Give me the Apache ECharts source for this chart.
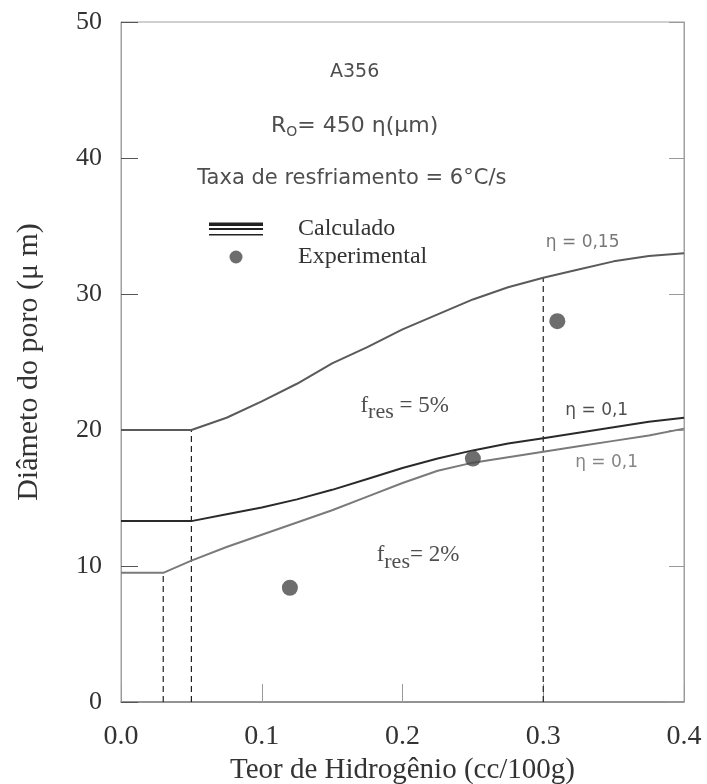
<!DOCTYPE html>
<html>
<head>
<meta charset="utf-8">
<script src="https://cdn.jsdelivr.net/npm/echarts@6/dist/echarts.min.js"></script>
<style>
  html, body { margin: 0; padding: 0; background: #fff; }
  #main { width: 707px; height: 784px; }
</style>
</head>
<body>
<div id="main"></div>
<script>
// hydrogen content (cc/100g) shared by the three calculated curves
var hydrogen = [0, 0.03, 0.05, 0.075, 0.1, 0.125, 0.15, 0.175, 0.2, 0.225, 0.25, 0.275, 0.3, 0.325, 0.35, 0.375, 0.4];
// calculated pore diameter (um)
var eta015res5 = [20, 20, 20, 20.9, 22.1, 23.4, 24.9, 26.1, 27.4, 28.5, 29.6, 30.5, 31.2, 31.8, 32.4, 32.8, 33.0];
var eta01res5 = [13.3, 13.3, 13.3, 13.8, 14.3, 14.9, 15.6, 16.4, 17.2, 17.9, 18.5, 19.0, 19.4, 19.8, 20.2, 20.6, 20.9];
var eta01res2 = [9.5, 9.5, 10.4, 11.4, 12.3, 13.2, 14.1, 15.1, 16.1, 17.0, 17.6, 18.0, 18.4, 18.8, 19.2, 19.6, 20.1];
// experimental points
var expX = [0.12, 0.25, 0.31];
var expY = [8.4, 17.9, 28.0];
// dashed guide lines (x position, height)
var guideX = [0.03, 0.05, 0.3];
var guideTop = [9.5, 20, 31.2];

var serif = "'Liberation Serif', 'Times New Roman', serif";
var sans = "'DejaVu Sans', 'Liberation Sans', sans-serif";

function pairs(xs, ys) {
  return xs.map(function (x, i) { return [x, ys[i]]; });
}

var dom = document.getElementById('main');
var myChart = echarts.init(dom, null, { renderer: 'canvas' });

// text notes, placed in data coordinates
var subSerif = { t: { fontFamily: serif, fontSize: 23, color: '#222' },
                 s: { fontFamily: serif, fontSize: 22, color: '#222', padding: [14, 0, 0, 0] } };
var notes = [
  { value: [0.166, 46.3], label: { formatter: 'A356', fontFamily: sans, fontSize: 19, color: '#222' } },
  { value: [0.166, 42.3], label: { formatter: '{t|R}{s|O}{t|= 450 η(μm)}', rich: {
      t: { fontFamily: sans, fontSize: 22, color: '#222' },
      s: { fontFamily: sans, fontSize: 14, color: '#222', padding: [12, 0, 0, 0] } } } },
  { value: [0.164, 38.5], label: { formatter: 'Taxa de resfriamento = 6°C/s', fontFamily: sans, fontSize: 21, color: '#222' } },
  { value: [0.328, 33.75], label: { formatter: 'η = 0,15', fontFamily: sans, fontSize: 17, color: '#555' } },
  { value: [0.338, 21.4], label: { formatter: 'η = 0,1', fontFamily: sans, fontSize: 17, color: '#222' } },
  { value: [0.345, 17.6], label: { formatter: 'η = 0,1', fontFamily: sans, fontSize: 17, color: '#666' } },
  { value: [0.2015, 21.8], label: { formatter: '{t|f}{s|res}{t| = 5%}', rich: subSerif } },
  { value: [0.211, 10.8], label: { formatter: '{t|f}{s|res}{t|= 2%}', rich: subSerif } }
];

var series = [
  {
    name: 'Calculado', type: 'line', data: pairs(hydrogen, eta01res5),
    symbol: 'none', color: '#222', lineStyle: { width: 2, color: '#2a2a2a' }, z: 3
  },
  {
    name: 'Calculado', type: 'line', data: pairs(hydrogen, eta015res5),
    symbol: 'none', lineStyle: { width: 2, color: '#5a5a5a' }, z: 3
  },
  {
    name: 'Calculado', type: 'line', data: pairs(hydrogen, eta01res2),
    symbol: 'none', lineStyle: { width: 2, color: '#7a7a7a' }, z: 3
  },
  {
    name: 'Experimental', type: 'scatter', data: pairs(expX, expY),
    symbol: 'circle', symbolSize: 16, itemStyle: { color: '#484848' }, z: 4
  }
];

guideX.forEach(function (x, i) {
  series.push({
    type: 'line', data: [[x, 0], [x, guideTop[i]]], symbol: 'none', silent: true,
    lineStyle: { width: 1.2, color: '#222', type: [6, 4] }, z: 2
  });
});

series.push({
  name: 'notes', type: 'scatter', data: notes, symbolSize: 0.1, silent: true,
  itemStyle: { color: 'transparent' },
  label: { show: true, position: 'inside' }, z: 5
});

var option = {
  animation: false,
  backgroundColor: '#fff',
  grid: {
    left: 121, right: 23, top: 22, bottom: 82,
    containLabel: false, outerBoundsMode: 'none',
    show: true, borderColor: '#a0a0a0', borderWidth: 1
  },
  legend: {
    orient: 'vertical', left: 204, top: 212,
    itemWidth: 54, itemHeight: 13, itemGap: 4,
    textStyle: { fontFamily: serif, fontSize: 24, color: '#333', padding: [0, 0, 0, 30] },
    itemStyle: { borderWidth: 0 },
    data: [
      { name: 'Calculado', icon: 'path://M0,0H54V3.5H0Z M0,5.5H54V7.5H0Z M0,11.5H54V13H0Z' },
      { name: 'Experimental', icon: 'circle' }
    ]
  },
  xAxis: {
    type: 'value', min: 0, max: 0.4, interval: 0.1,
    name: 'Teor de Hidrogênio (cc/100g)', nameLocation: 'middle', nameGap: 53,
    nameTextStyle: { fontFamily: serif, fontSize: 29, color: '#333' },
    axisLine: { lineStyle: { color: '#808080', width: 1.5 } },
    axisTick: { inside: true, length: 18, lineStyle: { color: '#999' } },
    axisLabel: { margin: 21, fontFamily: serif, fontSize: 28, color: '#333',
      formatter: function (v) { return v.toFixed(1); } },
    splitLine: { show: false }
  },
  yAxis: [
    {
      type: 'value', min: 0, max: 50, interval: 10,
      name: 'Diâmeto do poro (μ m)', nameLocation: 'middle', nameGap: 77,
      nameTextStyle: { fontFamily: serif, fontSize: 30, color: '#333' },
      axisLine: { show: true, lineStyle: { color: '#a0a0a0', width: 1 } },
      axisTick: { inside: true, length: 17, lineStyle: { color: '#555' } },
      axisLabel: { margin: 19, fontFamily: serif, fontSize: 26, color: '#333' },
      splitLine: { show: false }
    },
    {
      type: 'value', min: 0, max: 50, interval: 10, position: 'right',
      axisLine: { show: true, lineStyle: { color: '#a0a0a0', width: 1 } },
      axisTick: { inside: true, length: 15, lineStyle: { color: '#999' } },
      axisLabel: { show: false },
      splitLine: { show: false }
    }
  ],
  series: series
};

if (option && typeof option === 'object') {
  myChart.setOption(option);
}
window.addEventListener('resize', myChart.resize);
</script>
</body>
</html>
